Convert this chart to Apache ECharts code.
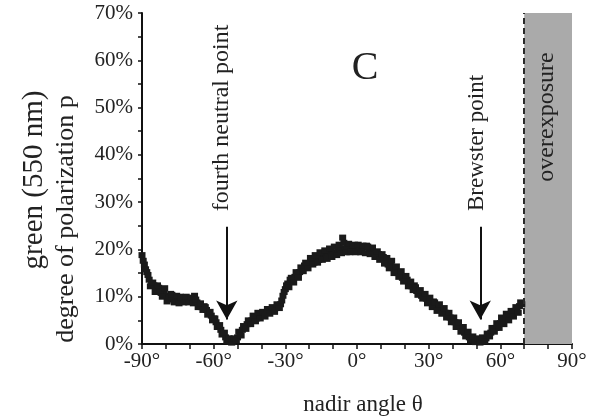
<!DOCTYPE html>
<html>
<head>
<meta charset="utf-8">
<script src="https://cdn.jsdelivr.net/npm/echarts@6/dist/echarts.min.js"></script>
<style>
html,body{margin:0;padding:0;background:#fff;}
#c{width:592px;height:419px;}
</style>
</head>
<body>
<div id="c"></div>
<script>
// nadir angle theta (deg) - whole-degree samples
const angles = [
-90,-89,-88,-87,-86,-85,-84,-83,-82,-81,-80,-79,-78,-77,-76,-75,-74,-73,-72,-71,
-70,-69,-68,-67,-66,-65,-64,-63,-62,-61,-60,-59,-58,-57,-56,-55,-54,-53,-52,-51,
-50,-49,-48,-47,-46,-45,-44,-43,-42,-41,-40,-39,-38,-37,-36,-35,-34,-33,-32,-31,
-30,-29,-28,-27,-26,-25,-24,-23,-22,-21,-20,-19,-18,-17,-16,-15,-14,-13,-12,-11,
-10,-9,-8,-7,-6,-5,-4,-3,-2,-1,0,1,2,3,4,5,6,7,8,9,
10,11,12,13,14,15,16,17,18,19,20,21,22,23,24,25,26,27,28,29,
30,31,32,33,34,35,36,37,38,39,40,41,42,43,44,45,46,47,48,49,
50,51,52,53,54,55,56,57,58,59,60,61,62,63,64,65,66,67,68,69
];
// degree of polarization p (%)
const polarization = [
18.8,16.8,15.2,13.6,12.8,12.4,11.6,11.9,10.8,11.4,10.2,9.6,10.6,9.4,9.8,9.2,10.0,9.4,9.6,9.2,
9.5,9.0,10.2,8.8,8.4,7.8,8.0,7.2,6.6,6.0,5.4,4.6,3.8,3.0,2.2,1.4,0.8,0.5,0.4,0.8,
1.4,2.2,3.0,3.6,4.2,4.8,5.0,5.6,5.4,6.0,6.2,6.0,6.6,6.8,7.0,7.2,7.6,7.8,8.4,10.2,
11.6,12.8,13.6,13.2,14.2,14.6,15.2,16.0,16.6,16.2,17.0,17.6,17.2,18.0,17.8,18.6,18.2,19.0,18.6,19.6,
19.0,19.4,20.0,20.2,22.5,20.2,20.6,19.4,20.4,21.0,20.0,20.6,19.6,20.4,20.8,19.8,20.2,19.4,18.6,19.0,
18.2,18.4,17.6,16.8,17.2,16.2,15.8,15.0,14.6,14.0,13.4,13.6,12.6,12.2,12.4,11.2,10.8,10.2,9.8,9.6,
9.4,8.8,9.0,8.2,8.0,7.4,7.0,6.6,6.0,5.6,5.0,4.6,4.0,3.6,2.8,2.4,1.8,1.4,1.0,0.7,
0.5,0.6,0.5,0.8,1.2,1.8,2.4,2.8,3.4,3.8,4.4,4.8,5.2,5.6,6.0,6.4,7.0,7.2,8.0,8.4
];
// nadir angle theta (deg) - half-degree samples
const anglesHalf = [
-89.5,-88.5,-87.5,-86.5,-85.5,-84.5,-83.5,-82.5,-81.5,-80.5,-79.5,-78.5,-77.5,-76.5,-75.5,-74.5,-73.5,-72.5,-71.5,-70.5,
-69.5,-68.5,-67.5,-66.5,-65.5,-64.5,-63.5,-62.5,-61.5,-60.5,-59.5,-58.5,-57.5,-56.5,-55.5,-54.5,-53.5,-52.5,-51.5,-50.5,
-49.5,-48.5,-47.5,-46.5,-45.5,-44.5,-43.5,-42.5,-41.5,-40.5,-39.5,-38.5,-37.5,-36.5,-35.5,-34.5,-33.5,-32.5,-31.5,-30.5,
-29.5,-28.5,-27.5,-26.5,-25.5,-24.5,-23.5,-22.5,-21.5,-20.5,-19.5,-18.5,-17.5,-16.5,-15.5,-14.5,-13.5,-12.5,-11.5,-10.5,
-9.5,-8.5,-7.5,-6.5,-5.5,-4.5,-3.5,-2.5,-1.5,-0.5,0.5,1.5,2.5,3.5,4.5,5.5,6.5,7.5,8.5,9.5,
10.5,11.5,12.5,13.5,14.5,15.5,16.5,17.5,18.5,19.5,20.5,21.5,22.5,23.5,24.5,25.5,26.5,27.5,28.5,29.5,
30.5,31.5,32.5,33.5,34.5,35.5,36.5,37.5,38.5,39.5,40.5,41.5,42.5,43.5,44.5,45.5,46.5,47.5,48.5,49.5,
50.5,51.5,52.5,53.5,54.5,55.5,56.5,57.5,58.5,59.5,60.5,61.5,62.5,63.5,64.5,65.5,66.5,67.5,68.5
];
const polarizationHalf = [
17.6,15.8,14.6,12.2,13.0,11.0,12.4,11.2,10.0,11.8,9.0,9.8,10.4,8.8,10.2,8.6,9.8,8.8,10.0,8.8,
9.8,8.6,9.4,7.8,8.6,7.2,7.8,6.2,6.8,5.0,5.4,3.6,4.0,2.0,2.4,0.6,1.2,0.3,1.2,0.8,
2.6,1.8,3.8,3.2,5.0,4.2,6.0,4.8,6.6,5.4,6.8,5.8,7.4,6.4,7.8,6.8,8.4,7.6,9.2,11.0,
12.4,12.0,14.0,13.0,15.2,14.0,16.2,15.4,17.2,16.0,18.2,16.8,18.8,17.2,19.4,17.8,19.8,18.0,20.2,18.4,
20.6,18.8,21.0,19.2,21.4,19.4,21.2,19.6,20.8,19.4,21.0,19.4,20.8,19.2,20.6,19.0,20.4,18.4,19.6,17.8,
19.0,17.0,18.2,16.0,17.6,15.0,16.4,14.2,15.4,13.2,14.4,12.2,13.2,11.4,12.0,10.4,11.4,9.6,10.6,8.6,
9.8,7.8,8.8,7.0,8.4,6.4,7.6,5.6,6.6,4.6,5.6,3.6,4.6,2.6,3.6,1.6,2.6,0.8,1.6,0.4,
1.2,0.3,1.4,0.6,2.2,1.6,3.4,2.6,4.4,3.4,5.6,4.2,6.4,5.0,7.0,5.8,7.8,6.6,8.8
];
const xTicks = {min: -90, max: 90, step: 30};
const yTicks = {min: 0, max: 70, step: 10};
const overexposureRange = [70, 90];
const arrowAngles = [-54.5, 51.6];

const FONT = '"Liberation Serif", "Times New Roman", serif';
const points = angles.map((a, i) => [a, polarization[i]]);
const pointsHalf = anglesHalf.map((a, i) => [a, polarizationHalf[i]]);
const markStyle = {symbol: 'rect', symbolSize: [7, 6], itemStyle: {color: '#1a1a1a', opacity: 1}};

const chart = echarts.init(document.getElementById('c'), null, {renderer: 'canvas'});
chart.setOption({
  animation: false,
  backgroundColor: '#ffffff',
  grid: {left: 142, right: 20, top: 13, bottom: 75, containLabel: false},
  xAxis: {
    type: 'value', min: xTicks.min, max: xTicks.max, interval: xTicks.step,
    axisLine: {onZero: false, lineStyle: {color: '#111', width: 2}},
    axisTick: {show: true, length: 5, lineStyle: {color: '#111', width: 1.5}},
    minorTick: {show: true, splitNumber: 3, length: 5, lineStyle: {color: '#111', width: 1.5}},
    splitLine: {show: false},
    axisLabel: {formatter: '{value}°', fontFamily: FONT, fontSize: 21, color: '#222', margin: 7}
  },
  yAxis: {
    type: 'value', min: yTicks.min, max: yTicks.max, interval: yTicks.step,
    axisLine: {show: true, onZero: false, lineStyle: {color: '#111', width: 2}},
    axisTick: {show: true, length: 4, lineStyle: {color: '#111', width: 1.5}},
    minorTick: {show: true, splitNumber: 2, length: 4, lineStyle: {color: '#111', width: 1.5}},
    splitLine: {show: false},
    axisLabel: {formatter: '{value}%', fontFamily: FONT, fontSize: 21, color: '#222', margin: 9}
  },
  series: [
    {
      type: 'scatter', data: [], z: 1,
      markArea: {
        silent: true,
        itemStyle: {color: '#aaaaaa', opacity: 1},
        data: [[{coord: [overexposureRange[0], yTicks.min]}, {coord: [overexposureRange[1], yTicks.max]}]]
      },
      markLine: {
        silent: true, symbol: 'none', label: {show: false},
        lineStyle: {color: '#2a2a2a', width: 2, type: [6, 4]},
        data: [[{coord: [overexposureRange[0], yTicks.min]}, {coord: [overexposureRange[0], yTicks.max]}]]
      }
    },
    Object.assign({type: 'scatter', data: points, z: 3}, markStyle),
    Object.assign({type: 'scatter', data: pointsHalf, z: 3}, markStyle),
    {
      type: 'scatter', data: [], z: 4,
      markLine: {
        silent: true, symbol: ['none', 'arrow'], symbolSize: [16, 19], label: {show: false},
        lineStyle: {color: '#111', width: 2, type: 'solid'},
        data: arrowAngles.map(a => [{coord: [a, 24.8]}, {coord: [a, 5.2]}])
      }
    }
  ],
  graphic: [
    {type: 'text', x: 365, y: 68, style: {text: 'C', font: '40px ' + FONT, fill: '#222', align: 'center', verticalAlign: 'middle', textAlign: 'center', textVerticalAlign: 'middle'}},
    {type: 'text', x: 222, y: 118, rotation: Math.PI / 2, style: {text: 'fourth neutral point', font: '24px ' + FONT, fill: '#222', align: 'center', verticalAlign: 'middle', textAlign: 'center', textVerticalAlign: 'middle'}},
    {type: 'text', x: 477, y: 143, rotation: Math.PI / 2, style: {text: 'Brewster point', font: '23px ' + FONT, fill: '#222', align: 'center', verticalAlign: 'middle', textAlign: 'center', textVerticalAlign: 'middle'}},
    {type: 'text', x: 547, y: 117, rotation: Math.PI / 2, z: 10, style: {text: 'overexposure', font: '24px ' + FONT, fill: '#222', align: 'center', verticalAlign: 'middle', textAlign: 'center', textVerticalAlign: 'middle'}},
    {type: 'text', x: 34, y: 180, rotation: Math.PI / 2, style: {text: 'green (550 nm)', font: '29px ' + FONT, fill: '#222', align: 'center', verticalAlign: 'middle', textAlign: 'center', textVerticalAlign: 'middle'}},
    {type: 'text', x: 66, y: 219, rotation: Math.PI / 2, style: {text: 'degree of polarization p', font: '26px ' + FONT, fill: '#222', align: 'center', verticalAlign: 'middle', textAlign: 'center', textVerticalAlign: 'middle'}},
    {type: 'text', x: 363, y: 405, style: {text: 'nadir angle θ', font: '23px ' + FONT, fill: '#222', align: 'center', verticalAlign: 'middle', textAlign: 'center', textVerticalAlign: 'middle'}}
  ]
});
</script>
</body>
</html>
